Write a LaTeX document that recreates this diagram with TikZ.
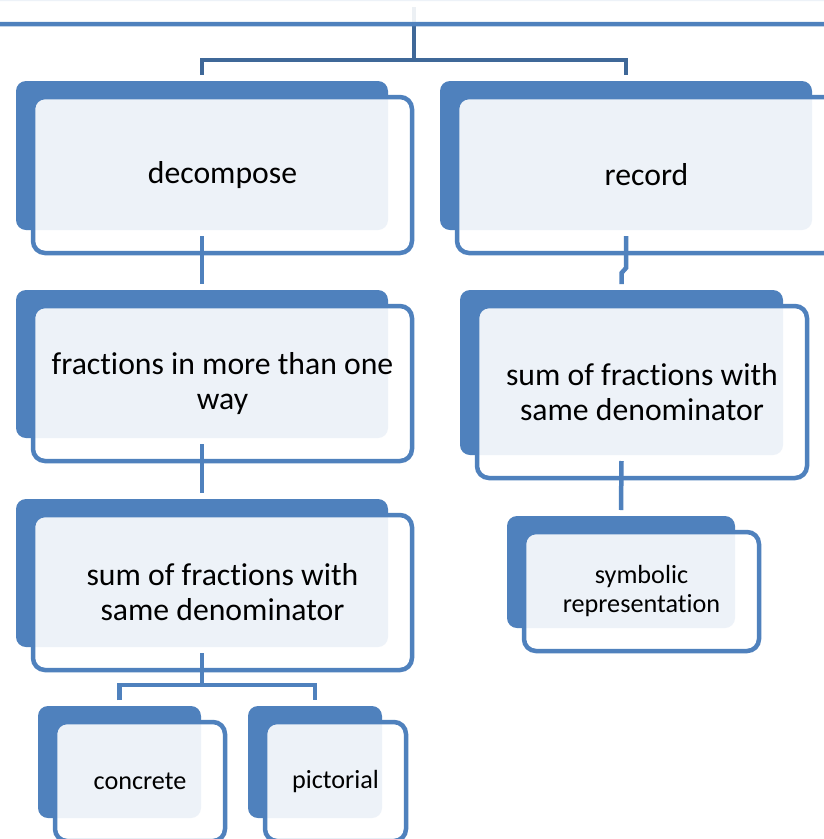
\documentclass[tikz,border=0pt]{standalone}
\usepackage{fontspec}
\setmainfont{Carlito}[RawFeature={-liga;-clig;-calt;-dlig}]
\definecolor{accent}{HTML}{4F81BD}
\definecolor{trunk}{HTML}{3F6898}
\tikzset{
  backbox/.style={rectangle, rounded corners=10pt, fill=accent, inner sep=0pt, outer sep=0pt},
  frontbox/.style={rectangle, rounded corners=12pt, draw=accent, line width=4.5pt,
    fill=white, fill opacity=0.9, text opacity=1, text=black,
    inner sep=0pt, outer sep=0pt, align=center},
  biglabel/.style={font=\fontsize{31.7}{35}\selectfont},
  smalllabel/.style={font=\fontsize{26.2}{29}\selectfont},
  link/.style={draw=accent, line width=4.5pt},
  trunklink/.style={draw=trunk, line width=4.5pt},
}
% #1 name, #2 left, #3 top, #4 width, #5 height, #6 label style, #7 text
\newcommand\cardstack[7]{%
  \node[backbox, minimum width=#4pt, minimum height=#5pt]
    (#1-back) at ({#2+#4/2},{#3+#5/2}) {};
  \node[frontbox, #6, minimum width={#4pt+7pt}, minimum height={#5pt+7pt}]
    (#1) at ({#2+#4/2+20.5},{#3+#5/2+19.5}) {#7};
}
\begin{document}
\begin{tikzpicture}[x=1pt, y=-1pt]
  \useasboundingbox (0,0) rectangle (824,839);
  \clip (0,0) rectangle (824,839);
  \fill[white] (0,0) rectangle (824,839);

  % branch points of the connectors
  \coordinate (top-fork) at (414,60);
  \coordinate (low-fork) at (202,685);

  % root card, mostly above the page
  \node[backbox, minimum width=948pt, minimum height=201pt] (root-back) at (414,-99.5) {};

  % connectors first, so the translucent cards lie over them
  \path (root-back.south) coordinate (root-foot);
  \draw[trunklink] ([yshift=-6pt]root-foot) -- (top-fork);
  \draw[trunklink] (top-fork) -- (202,60) -- (202,75);
  \draw[trunklink] (top-fork) -- (626,60) -- (626,75);

  \node[frontbox, minimum width=955pt, minimum height=208pt] (root) at (434.5,-80) {};

  \cardstack{dec}{16}{81}{372}{149}{biglabel}{decompose}
  \cardstack{rec}{440}{81}{372}{149}{biglabel}{record}

  \draw[link] ([yshift=-6pt]dec-back.south) -- ([yshift=6pt]dec-back.south |- 0,290);
  \draw[link] ([yshift=-6pt]rec-back.south) -- ++(0,32) -- (621.5,273) -- (621.5,284);

  \cardstack{frac}{16}{290}{372}{148}{biglabel}{fractions in more than one\\way}
  \cardstack{sumr}{460}{290}{323}{165}{biglabel}{sum of fractions with\\same denominator}

  \draw[link] ([yshift=-6pt]frac-back.south) -- (202,493);
  \draw[link] ([yshift=-6pt]sumr-back.south) -- (621,510);

  \cardstack{suml}{16}{499}{372}{148}{biglabel}{sum of fractions with\\same denominator}
  \cardstack{sym}{507}{516}{228}{112}{smalllabel}{symbolic\\representation}

  \draw[link] ([yshift=-6pt]suml-back.south) -- (low-fork);
  \draw[link] (119.5,700) -- (119.5,685) -- (315,685) -- (315,700);

  \cardstack{con}{38}{706}{163}{112}{smalllabel}{concrete}
  \cardstack{pic}{248}{706}{134}{112}{smalllabel}{pictorial}
\end{tikzpicture}
\end{document}
